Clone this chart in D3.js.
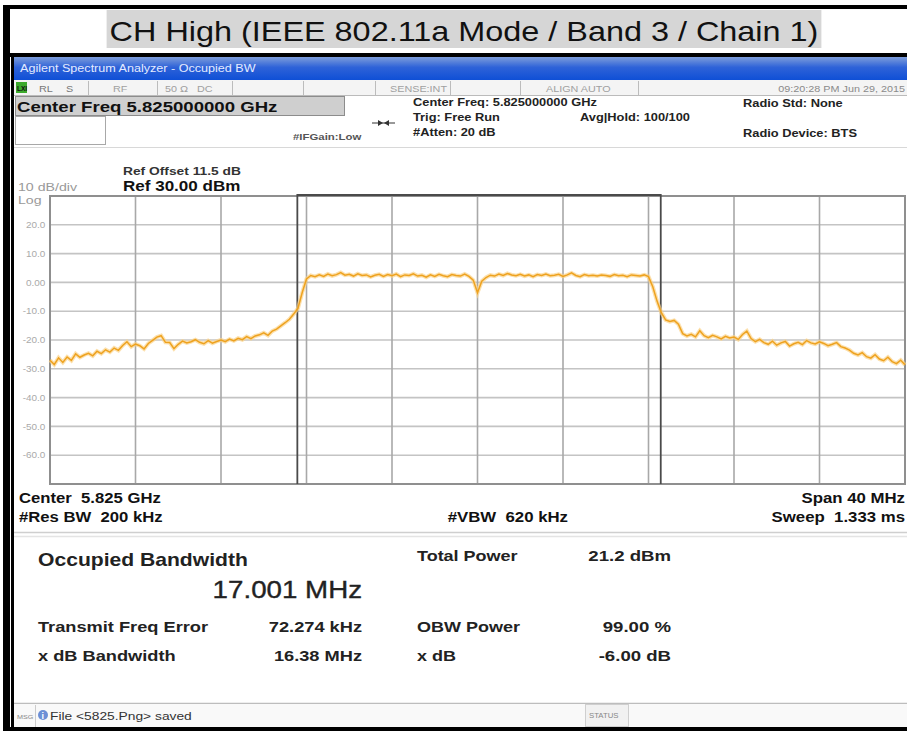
<!DOCTYPE html>
<html>
<head>
<meta charset="UTF-8">
<title>CH High - Occupied BW</title>
<script src="https://cdn.jsdelivr.net/npm/d3@7"></script>
<style>
  body { margin: 0; background: #fff; }
  svg { display: block; font-family: "Liberation Sans", Arial, sans-serif; }
  svg text { white-space: pre; }
</style>
</head>
<body>
<svg width="907" height="731"></svg>
<script>
// ---- data ----
var chartTitle = "CH High (IEEE 802.11a Mode / Band 3 / Chain 1)";
var yTicks = [20, 10, 0, -10, -20, -30, -40, -50, -60];
var yTickLabels = ["20.0", "10.0", "0.00", "-10.0", "-20.0", "-30.0", "-40.0", "-50.0", "-60.0"];
var spanMHz = [-20, 20];        // offset from centre, 40 MHz span
var refLevel = 30, bottomLevel = -70;
var startMHz = -20, stepMHz = 0.2;
var traceDbm = [
  -27.0, -28.5, -26.2, -27.8, -25.9, -27.1, -24.8, -26.0, -25.2, -24.6,
  -25.5, -23.9, -24.7, -23.4, -24.2, -22.8, -23.6, -21.9, -20.6, -22.3,
  -21.4, -22.0, -23.1, -21.2, -20.1, -19.0, -18.5, -20.8, -20.9, -23.0,
  -21.5, -20.4, -21.0, -20.6, -19.9, -20.8, -21.3, -20.2, -21.1, -20.5,
  -20.0, -20.6, -19.7, -20.3, -19.4, -19.9, -18.8, -19.5, -18.6, -18.2,
  -17.5, -18.4, -16.9, -16.2, -15.1, -14.0, -12.8, -11.0, -9.0, -3.5,
  1.2, 2.4, 2.0, 2.6, 2.1, 2.9, 2.3, 2.7, 3.4, 2.5,
  2.8, 2.2, 3.0, 2.4, 2.6, 1.9, 2.5, 2.8, 2.1, 2.7,
  2.3, 2.9, 2.0, 2.6, 2.4, 3.0, 2.2, 2.5, 1.8, 2.6,
  2.1, 2.8, 2.3, 2.0, 2.7, 2.4, 2.2, 2.9, 2.1, 0.8,
  -3.6, 0.4, 1.7, 2.5, 2.2, 2.9, 2.4, 3.1, 2.6, 2.3,
  2.8, 2.2, 2.6, 2.0, 2.7, 2.4, 2.9, 2.3, 2.5, 2.8,
  2.1, 2.6, 3.3, 2.4, 2.0, 2.7, 2.3, 2.5, 2.2, 2.6,
  2.4, 2.1, 2.7, 2.3, 2.5, 2.0, 2.6, 2.4, 2.2, 2.6,
  2.0, -1.5, -6.5, -10.5, -13.0, -13.6, -13.2, -14.5, -17.8, -18.6,
  -18.0, -18.9, -16.8, -18.5, -19.2, -18.4, -18.9, -19.6, -18.7, -19.3,
  -19.0, -19.8, -18.1, -16.9, -19.5, -20.6, -19.8, -20.9, -21.5, -20.4,
  -21.8, -21.0, -20.5, -22.1, -21.3, -20.8, -21.6, -20.2, -21.0, -21.4,
  -20.6, -21.2, -22.0, -21.5, -20.9, -22.3, -22.8, -23.5, -24.6, -25.2,
  -24.4, -25.8, -26.3, -25.1, -26.6, -27.2, -26.0, -27.5, -28.2, -27.0,
  -28.6
];
var obwMHz = 17.001, freqErrMHz = 0.072274;

var statusCells = ["RL", "S", "RF", "50 \u03A9   DC", "SENSE:INT", "ALIGN AUTO"];
var headerMid = ["Center Freq: 5.825000000 GHz", "Trig: Free Run", "#Atten: 20 dB"];
var bottomLeft = ["Center  5.825 GHz", "#Res BW  200 kHz"];
var bottomRight = ["Span 40 MHz", "Sweep  1.333 ms"];
var resLeftLabels = ["Transmit Freq Error", "x dB Bandwidth"];
var resLeftValues = ["72.274 kHz", "16.38 MHz"];
var resRightLabels = ["Total Power", "OBW Power", "x dB"];
var resRightValues = ["21.2 dBm", "99.00 %", "-6.00 dB"];

var svg = d3.select("svg");
var W = +svg.attr("width"), H = +svg.attr("height");
var SX = 1.2;   // the screenshot is stretched sideways

var plot = {left: 50, right: 905, top: 196, bottom: 484};

var x = d3.scaleLinear().domain(spanMHz).range([plot.left, plot.right]);
var y = d3.scaleLinear().domain([bottomLevel, refLevel]).range([plot.bottom, plot.top]);

function txt(px, py, s, size, o) {
  o = o || {};
  return svg.append("text")
    .attr("transform", "translate(" + px + "," + py + ") scale(" + (o.sx || SX) + ",1)")
    .attr("font-size", size)
    .attr("font-weight", o.bold ? "bold" : null)
    .attr("text-anchor", o.anchor || "start")
    .attr("fill", o.fill || "#111")
    .text(s);
}

// ---- outer frame and title ----
svg.append("rect").attr("width", W).attr("height", H).attr("fill", "#fff");

var titleBg = svg.append("rect").attr("fill", "#d6d6d6");
var titleText = txt(464, 41, chartTitle, 27, {anchor: "middle", fill: "#111"});
var tb = titleText.node().getBoundingClientRect();
titleBg.attr("x", tb.left - 3).attr("y", 10).attr("width", tb.width + 6).attr("height", 38);

svg.append("rect").attr("x", 3).attr("y", 5).attr("width", W - 3).attr("height", 4).attr("fill", "#000");
svg.append("rect").attr("x", 3).attr("y", 53).attr("width", W - 3).attr("height", 4).attr("fill", "#000");
svg.append("rect").attr("x", 3).attr("y", 5).attr("width", 7).attr("height", H - 5).attr("fill", "#000");
svg.append("rect").attr("x", 11).attr("y", 53).attr("width", 3).attr("height", H - 53).attr("fill", "#000");
svg.append("rect").attr("x", 3).attr("y", 727).attr("width", W - 3).attr("height", 4).attr("fill", "#000");

// ---- analyser window bar ----
var grad = svg.append("defs").append("linearGradient").attr("id", "bar")
  .attr("x1", 0).attr("y1", 0).attr("x2", 0).attr("y2", 1);
grad.append("stop").attr("offset", "0%").attr("stop-color", "#7d9ddb");
grad.append("stop").attr("offset", "45%").attr("stop-color", "#2e62d8");
grad.append("stop").attr("offset", "100%").attr("stop-color", "#0f4fd6");
svg.append("rect").attr("x", 14).attr("y", 57).attr("width", W - 14).attr("height", 23).attr("fill", "url(#bar)");
txt(20, 72, "Agilent Spectrum Analyzer - Occupied BW", 10.5, {fill: "#e4ebff"});

// status row
svg.append("rect").attr("x", 14).attr("y", 80).attr("width", W - 14).attr("height", 15).attr("fill", "#f4f4f4");
svg.append("line").attr("x1", 14).attr("x2", W).attr("y1", 95.5).attr("y2", 95.5).attr("stroke", "#bbb");
svg.append("rect").attr("x", 16).attr("y", 82).attr("width", 11).attr("height", 11).attr("fill", "#3caa2c");
txt(17, 91, "LXI", 6.5, {bold: true, sx: 1});
var cellX = [39, 66, 113, 165, 390, 546];
[88, 157, 232, 303, 375, 450, 520, 638].forEach(function(d) {
  svg.append("line").attr("x1", d + 0.5).attr("x2", d + 0.5).attr("y1", 81).attr("y2", 95).attr("stroke", "#bcbcbc");
});
statusCells.forEach(function(t, i) {
  txt(cellX[i], 92, t, 9, {fill: i < 2 ? "#777" : "#a0a0a0"});
});
txt(905, 92, "09:20:28 PM Jun 29, 2015", 9, {anchor: "end", fill: "#8a8a8a"});

// ---- header ----
svg.append("rect").attr("x", 15.5).attr("y", 96.5).attr("width", 329).attr("height", 19)
  .attr("fill", "#cfcfcf").attr("stroke", "#8c8c8c");
txt(17, 112, "Center Freq 5.825000000 GHz", 15.5, {bold: true});
svg.append("rect").attr("x", 15.5).attr("y", 116.5).attr("width", 90).attr("height", 28)
  .attr("fill", "#fff").attr("stroke", "#a8a8a8");
txt(293, 140, "#IFGain:Low", 9.5, {bold: true, fill: "#555"});
svg.append("line").attr("x1", 372).attr("x2", 395).attr("y1", 123).attr("y2", 123).attr("stroke", "#333");
svg.append("path").attr("d", "M378,120 L383,123 L378,126 Z M389,120 L384,123 L389,126 Z").attr("fill", "#333");
headerMid.forEach(function(t, i) {
  txt(413, 106 + i * 15, t, 10.7, {bold: true, fill: "#222"});
});
txt(580, 121, "Avg|Hold: 100/100", 10.7, {bold: true, fill: "#222"});
txt(743, 107, "Radio Std: None", 10.7, {bold: true, fill: "#222"});
txt(743, 137, "Radio Device: BTS", 10.7, {bold: true, fill: "#222"});
svg.append("line").attr("x1", 14).attr("x2", W).attr("y1", 147.5).attr("y2", 147.5).attr("stroke", "#d8d8d8");

txt(123, 175, "Ref Offset 11.5 dB", 11.5, {bold: true, fill: "#333"});
txt(123, 191, "Ref 30.00 dBm", 14.2, {bold: true});
txt(18, 191, "10 dB/div", 11.8, {fill: "#999"});
txt(18, 204, "Log", 11.8, {fill: "#999"});

// ---- plot grid ----
var g = svg.append("g");
g.selectAll("line.h").data(yTicks).enter().append("line")
  .attr("x1", plot.left).attr("x2", plot.right)
  .attr("y1", function(d) { return y(d); }).attr("y2", function(d) { return y(d); })
  .attr("stroke", "#c4c4c4").attr("stroke-width", 1.6);
g.selectAll("line.v").data(d3.range(spanMHz[0] + 4, spanMHz[1], 4)).enter().append("line")
  .attr("y1", plot.top).attr("y2", plot.bottom)
  .attr("x1", function(d) { return x(d); }).attr("x2", function(d) { return x(d); })
  .attr("stroke", "#a8a8a8").attr("stroke-width", 1.6);
g.append("rect").attr("x", plot.left).attr("y", plot.top)
  .attr("width", plot.right - plot.left).attr("height", plot.bottom - plot.top)
  .attr("fill", "none").attr("stroke", "#8f8f8f").attr("stroke-width", 2);

// y tick labels via axis
var yAxis = d3.axisLeft(y).tickValues(yTicks).tickSize(0).tickPadding(3)
  .tickFormat(function(d, i) { return yTickLabels[i]; });
var ya = svg.append("g").attr("transform", "translate(" + (plot.left - 1) + ",0)").call(yAxis);
ya.select(".domain").remove();
ya.selectAll("text").attr("font-size", 8.3).attr("fill", "#aaa")
  .attr("font-family", "'Liberation Sans', Arial, sans-serif")
  .attr("transform", "scale(" + SX + ",1)");

// OBW bracket
var obwL = x(freqErrMHz - obwMHz / 2), obwR = x(freqErrMHz + obwMHz / 2);
svg.append("path")
  .attr("d", "M" + obwL + "," + plot.bottom + " V" + (plot.top - 1) + " H" + obwR + " V" + plot.bottom)
  .attr("fill", "none").attr("stroke", "#4a4a4a").attr("stroke-width", 1.8);

// trace
var line = d3.line()
  .x(function(d, i) { return x(startMHz + i * stepMHz); })
  .y(function(d) { return y(d); });
svg.append("path").datum(traceDbm).attr("d", line)
  .attr("fill", "none").attr("stroke", "#fbd38a").attr("stroke-width", 4).attr("stroke-opacity", 0.7);
svg.append("path").datum(traceDbm).attr("d", line)
  .attr("fill", "none").attr("stroke", "#eea21f").attr("stroke-width", 1.5);

// ---- bottom annotations ----
bottomLeft.forEach(function(t, i) {
  txt(19, 503 + i * 19, t, 13.9, {bold: true});
});
bottomRight.forEach(function(t, i) {
  txt(905, 503 + i * 19, t, 14, {bold: true, anchor: "end"});
});
txt(568, 522, "#VBW  620 kHz", 14, {bold: true, anchor: "end"});
svg.append("line").attr("x1", 14).attr("x2", W).attr("y1", 532.5).attr("y2", 532.5).attr("stroke", "#cfcfcf").attr("stroke-width", 1.5);
svg.append("line").attr("x1", 14).attr("x2", W).attr("y1", 536.5).attr("y2", 536.5).attr("stroke", "#e4e4e4").attr("stroke-width", 1.5);

// results panel
txt(38, 566, "Occupied Bandwidth", 17.6, {bold: true, fill: "#222"});
txt(362, 598, "17.001 MHz", 23.1, {anchor: "end", fill: "#222"})
  .attr("stroke", "#222").attr("stroke-width", 0.35);
resLeftLabels.forEach(function(t, i) {
  txt(38, 632 + i * 29, t, 15.2, {bold: true, fill: "#222"});
  txt(362, 632 + i * 29, resLeftValues[i], 15.2, {bold: true, fill: "#222", anchor: "end"});
});
var rightY = [561, 632, 661];
resRightLabels.forEach(function(t, i) {
  txt(417, rightY[i], t, 15, {bold: true, fill: "#222"});
  txt(671, rightY[i], resRightValues[i], 15.5, {bold: true, fill: "#222", anchor: "end"});
});

// ---- status bar ----
svg.append("line").attr("x1", 14).attr("x2", W).attr("y1", 703.5).attr("y2", 703.5).attr("stroke", "#bdbdbd").attr("stroke-width", 1.5);
svg.append("rect").attr("x", 14).attr("y", 704).attr("width", W - 14).attr("height", 23).attr("fill", "#f9f9f9");
txt(17, 719, "MSG", 6, {fill: "#888"});
svg.append("line").attr("x1", 35.5).attr("x2", 35.5).attr("y1", 705).attr("y2", 727).attr("stroke", "#ccc");
svg.append("circle").attr("cx", 43).attr("cy", 715).attr("r", 5).attr("fill", "#6c8fd6");
txt(41.5, 719, "i", 9, {bold: true, fill: "#fff", sx: 1});
txt(50, 720, "File <5825.Png> saved", 11.5, {fill: "#333"});
svg.append("rect").attr("x", 585.5).attr("y", 704.5).attr("width", 43).attr("height", 22)
  .attr("fill", "#f1f1f1").attr("stroke", "#cfcfcf");
txt(589, 718, "STATUS", 6.5, {fill: "#888"});
</script>
</body>
</html>
